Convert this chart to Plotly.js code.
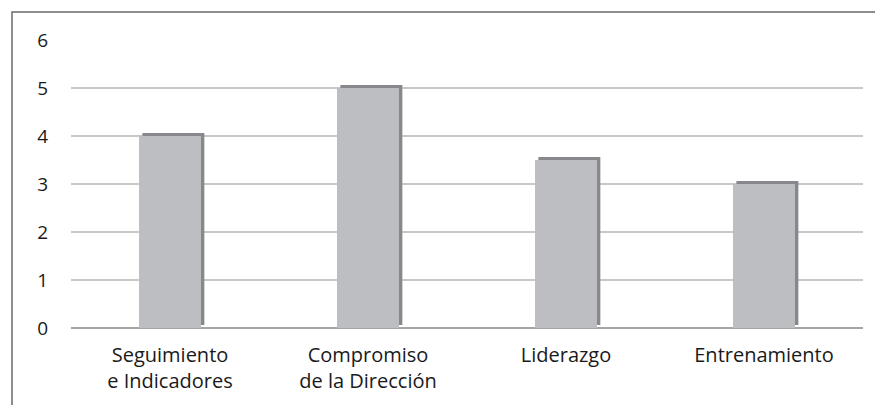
<!DOCTYPE html>
<html>
<head>
<meta charset="utf-8">
<script src="https://cdn.plot.ly/plotly-3.0.1.min.js"></script>
<style>html,body{margin:0;padding:0;background:#fff;}#chart{width:875px;height:405px;}</style>
</head>
<body>
<div id="chart"></div>
<script>
const categories = ["Seguimiento<br>e Indicadores", "Compromiso<br>de la Dirección", "Liderazgo", "Entrenamiento"];
const values = [4, 5, 3.5, 3];
const yTicks = [0, 1, 2, 3, 4, 5, 6];

const barW = 0.313;
const shadow = {
  type: 'bar', x: categories, y: values, base: 0.0625,
  width: barW, offset: -barW / 2 + 0.017,
  marker: {color: '#87888b', line: {width: 0}},
  hoverinfo: 'skip', showlegend: false
};
const main = {
  type: 'bar', x: categories, y: values,
  width: barW, offset: -barW / 2,
  marker: {color: '#bdbec1', line: {width: 0}},
  showlegend: false
};

const layout = {
  width: 875, height: 405,
  margin: {l: 71, r: 12, t: 40, b: 77},
  paper_bgcolor: '#ffffff', plot_bgcolor: '#ffffff',
  barmode: 'overlay',
  font: {family: 'Open Sans, sans-serif', color: '#1a1a1a', size: 16},
  xaxis: {
    type: 'category', showgrid: false, zeroline: false,
    showline: false, ticks: '', tickfont: {size: 20, color: '#1a1a1a'},
    ticklabelstandoff: 13
  },
  yaxis: {
    range: [0, 6], tickvals: yTicks, showgrid: true,
    gridcolor: '#c8c8c8', gridwidth: 2, zeroline: true,
    zerolinecolor: '#a6a6a6', zerolinewidth: 2, showline: false,
    ticks: '', ticklabelstandoff: 22, tickfont: {size: 19, color: '#1a1a1a'}
  },
  shapes: [{
    type: 'rect', xref: 'paper', yref: 'paper',
    x0: -0.0745, x1: 1.2, y0: -0.6, y1: 1.0972,
    line: {color: '#6a6a6a', width: 1.5}, layer: 'above'
  }]
};

Plotly.newPlot('chart', [shadow, main], layout, {displayModeBar: false, staticPlot: true});
</script>
</body>
</html>
